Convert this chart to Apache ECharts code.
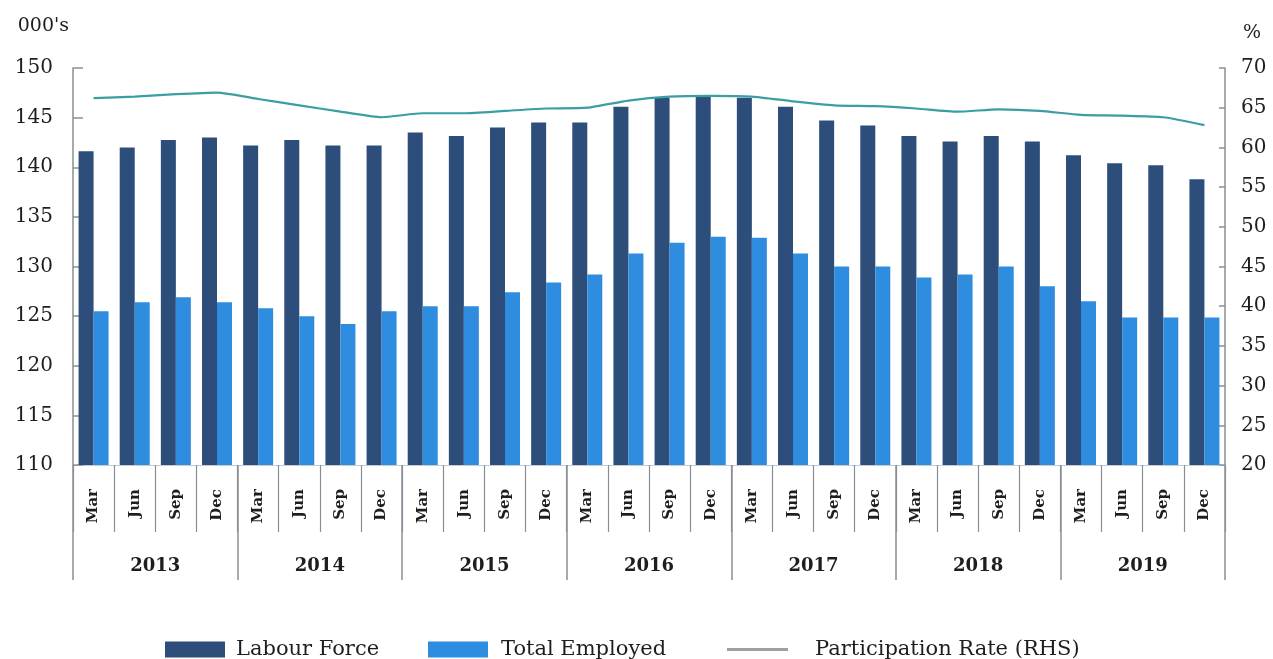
<!DOCTYPE html>
<html>
<head>
<meta charset="utf-8">
<script src="https://cdn.jsdelivr.net/npm/echarts@6/dist/echarts.min.js"></script>
<style>
  html, body { margin: 0; padding: 0; background: #fff; }
  #chart { width: 1273px; height: 659px; }
</style>
</head>
<body>
<div id="chart"></div>
<script>
// 季度与年份
const months = ["Mar", "Jun", "Sep", "Dec"];
const years = ["2013", "2014", "2015", "2016", "2017", "2018", "2019"];
const quarters = [];
years.forEach(y => months.forEach(m => quarters.push(m)));

// 数据 (000's / %)
const labourForce = [141.6, 142.0, 142.75, 143.0, 142.2, 142.75, 142.2, 142.2,
  143.5, 143.15, 144.0, 144.5, 144.5, 146.1, 147.0, 147.1,
  147.0, 146.1, 144.7, 144.2, 143.15, 142.6, 143.15, 142.6,
  141.2, 140.4, 140.2, 138.8];
const totalEmployed = [125.5, 126.4, 126.9, 126.4, 125.8, 125.0, 124.2, 125.5,
  126.0, 126.0, 127.4, 128.4, 129.2, 131.3, 132.4, 133.0,
  132.9, 131.3, 130.0, 130.0, 128.9, 129.2, 130.0, 128.0,
  126.5, 124.85, 124.85, 124.85];
const participation = [66.2, 66.4, 66.7, 66.9, 66.1, 65.3, 64.5, 63.8,
  64.3, 64.3, 64.6, 64.9, 65.0, 65.9, 66.4, 66.5,
  66.4, 65.8, 65.3, 65.2, 64.9, 64.5, 64.8, 64.6,
  64.1, 64.0, 63.8, 62.8];

const font = "DejaVu Serif";
const ink = "#1e1e1e";
const axisGrey = "#8a8f96";

const chart = echarts.init(document.getElementById("chart"));

// 图例文字样式
const legendText = (pad) => ({
  fontFamily: font,
  fontSize: 21,
  color: ink,
  padding: [0, 0, 0, pad],
});

const option = {
  backgroundColor: "#fff",
  animation: false,
  textStyle: { fontFamily: font, color: ink },
  grid: { left: 73, right: 48, top: 68, bottom: 194, containLabel: false },

  legend: [
    {
      data: [{ name: "Labour Force", icon: "rect" }],
      left: 160,
      top: 634,
      itemWidth: 60,
      itemHeight: 16,
      textStyle: legendText(6),
    },
    {
      data: [{ name: "Total Employed", icon: "rect" }],
      left: 423,
      top: 634,
      itemWidth: 60,
      itemHeight: 16,
      textStyle: legendText(8),
    },
    {
      data: [{ name: "Participation Rate (RHS)", icon: "rect", itemStyle: { color: "#a0a0a0" } }],
      left: 722,
      top: 634,
      itemWidth: 61,
      itemHeight: 3,
      textStyle: legendText(22),
    },
  ],

  xAxis: [
    {
      type: "category",
      data: quarters,
      position: "bottom",
      axisLine: { show: true, lineStyle: { color: "#c8ccd2", width: 1 } },
      axisTick: { show: true, length: 67, lineStyle: { color: axisGrey, width: 1.2 } },
      axisLabel: {
        rotate: 90,
        margin: 24,
        fontFamily: font,
        fontWeight: "bold",
        fontSize: 15,
        color: ink,
      },
    },
    {
      type: "category",
      data: years,
      position: "bottom",
      axisLine: { show: false },
      axisTick: { show: true, length: 115, lineStyle: { color: axisGrey, width: 1.5 } },
      axisLabel: {
        margin: 92,
        fontFamily: font,
        fontWeight: "bold",
        fontSize: 18,
        color: ink,
      },
    },
  ],

  yAxis: [
    {
      type: "value",
      min: 110,
      max: 150,
      interval: 5,
      name: "000's",
      nameLocation: "end",
      nameGap: 32,
      nameTextStyle: { fontFamily: font, fontSize: 19, color: ink, align: "right", padding: [0, 4, 0, 0] },
      axisLine: { show: true, lineStyle: { color: axisGrey, width: 1.5 } },
      axisTick: { show: true, inside: true, length: 10, lineStyle: { color: axisGrey, width: 1.5 } },
      axisLabel: { margin: 20, fontFamily: font, fontSize: 20, color: ink },
      splitLine: { show: false },
    },
    {
      type: "value",
      min: 20,
      max: 70,
      interval: 5,
      name: "%",
      nameLocation: "end",
      nameGap: 25,
      nameTextStyle: { fontFamily: font, fontSize: 19, color: ink, align: "left", padding: [0, 0, 0, 18] },
      axisLine: { show: true, lineStyle: { color: axisGrey, width: 1.5 } },
      axisTick: { show: true, inside: true, length: 6, lineStyle: { color: axisGrey, width: 1.5 } },
      axisLabel: { margin: 16, fontFamily: font, fontSize: 20, color: ink },
      splitLine: { show: false },
    },
  ],

  series: [
    {
      name: "Labour Force",
      type: "bar",
      xAxisIndex: 0,
      yAxisIndex: 0,
      data: labourForce,
      barWidth: 15,
      barGap: "0%",
      itemStyle: { color: "#2d4d7b" },
    },
    {
      name: "Total Employed",
      type: "bar",
      xAxisIndex: 0,
      yAxisIndex: 0,
      data: totalEmployed,
      barWidth: 15,
      barGap: "0%",
      itemStyle: { color: "#2f8de0" },
    },
    {
      name: "Participation Rate (RHS)",
      type: "line",
      xAxisIndex: 0,
      yAxisIndex: 1,
      data: participation,
      smooth: 0.2,
      symbol: "none",
      lineStyle: { color: "#3a9ea2", width: 2.2 },
      itemStyle: { color: "#3a9ea2" },
      z: 5,
    },
  ],
};

chart.setOption(option);
</script>
</body>
</html>
